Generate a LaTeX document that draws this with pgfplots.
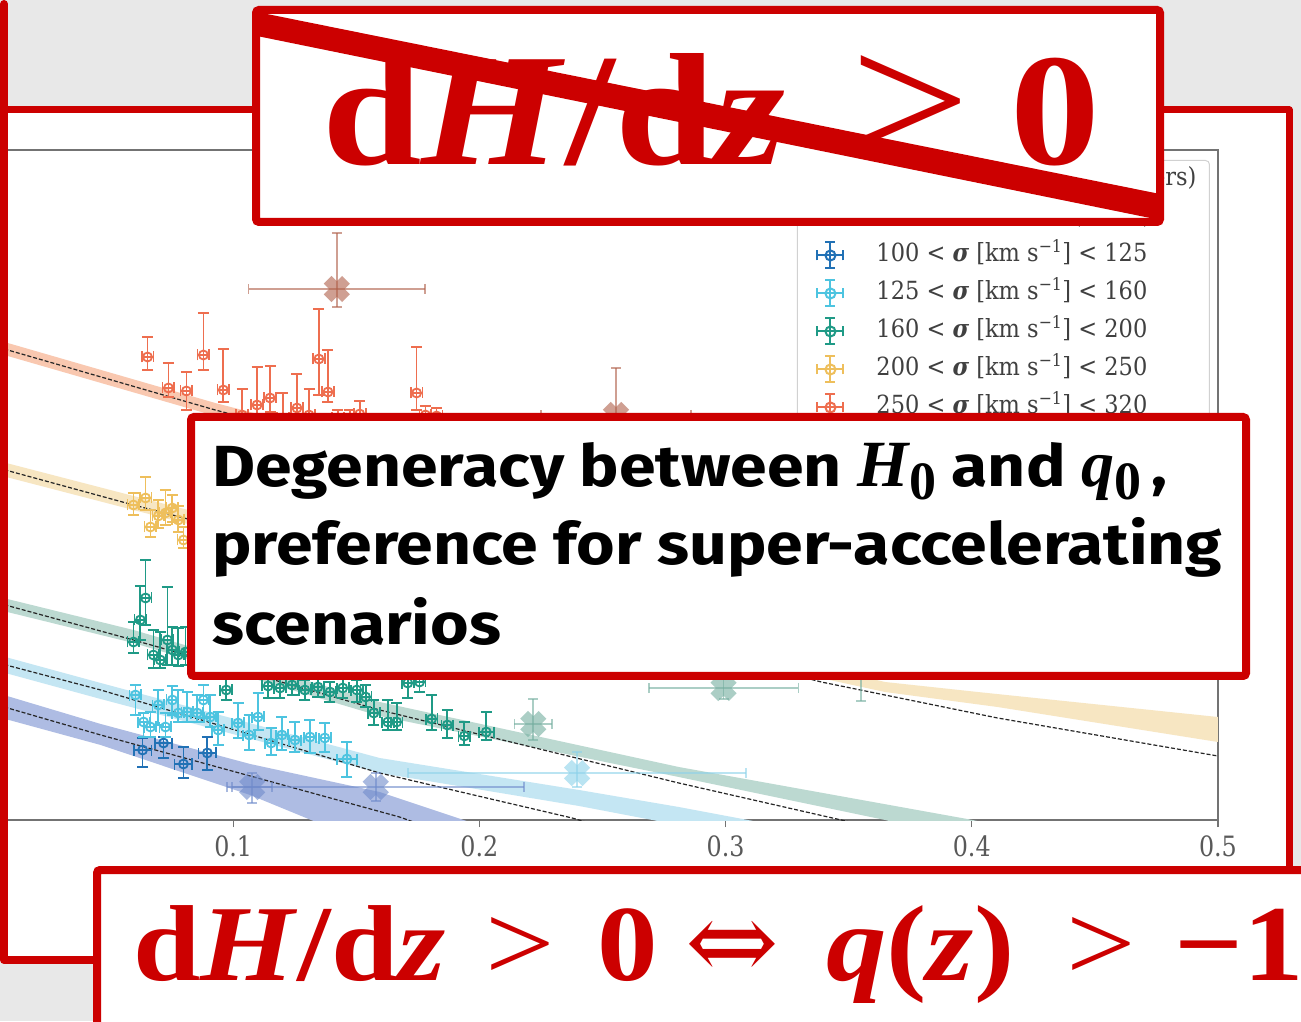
\documentclass[border=0pt]{standalone}
\usepackage{pgfplots}
\pgfplotsset{compat=1.18}
\usepackage{pgfplotstable}
\usepackage{fontspec}
\setmainfont{DejaVu Serif}
\newfontfamily\legfont[FakeStretch=0.9]{DejaVu Serif}
\newfontfamily\tickfont[FakeStretch=0.85]{DejaVu Serif}
\newfontfamily\redfont[FakeStretch=1.12]{Liberation Serif}
\newfontfamily\symfont{DejaVu Serif}
\newfontfamily\boxfont[FakeStretch=1.14]{Fira Sans}
\newfontfamily\varfont{Liberation Serif}

\definecolor{slidered}{RGB}{204,0,0}
\definecolor{slidebg}{HTML}{E8E8E8}
% series colours
\definecolor{cdb}{HTML}{2171B5}
\definecolor{clb}{HTML}{4DC4E0}
\definecolor{ctl}{HTML}{1F9A86}
\definecolor{cyl}{HTML}{EEBF5C}
\definecolor{cor}{HTML}{EE6E4F}
% model bands
\definecolor{bdb}{HTML}{AEBCE3}
\definecolor{blb}{HTML}{C4E6F3}
\definecolor{btl}{HTML}{BCD9D1}
\definecolor{byl}{HTML}{F7E6C2}
\definecolor{bor}{HTML}{F9C8B0}
% large cluster markers
\definecolor{xdb}{HTML}{6F8BCB}
\definecolor{xlb}{HTML}{8DD2EA}
\definecolor{xtl}{HTML}{74AE9F}
\definecolor{xor}{HTML}{B0604A}

% legend symbol: point with x and y error bars
\newcommand{\errleg}[1]{%
  \path[draw=none, fill=none, opacity=0] (-20pt,-13pt) rectangle (13pt,13pt);
  \draw[#1, line width=2pt, sharp corners] (0pt,-13pt) -- (0pt,13pt);
  \draw[#1, line width=2pt, sharp corners] (-5pt,-13pt) -- (5pt,-13pt);
  \draw[#1, line width=2pt, sharp corners] (-5pt,13pt) -- (5pt,13pt);
  \draw[#1, line width=2pt, sharp corners] (-13pt,0pt) -- (13pt,0pt);
  \draw[#1, line width=2pt, sharp corners] (-13pt,-5pt) -- (-13pt,5pt);
  \draw[#1, line width=2pt, sharp corners] (13pt,-5pt) -- (13pt,5pt);
  \draw[#1, line width=2pt] (0pt,0pt) circle (5pt);}

\newcommand{\Hz}{{\varfont\fontsize{66}{66}\selectfont\itshape H}\raisebox{-13pt}{\varfont\fontsize{54}{54}\selectfont 0}}
\newcommand{\qz}{{\varfont\fontsize{66}{66}\selectfont\itshape q}\raisebox{-13pt}{\varfont\fontsize{54}{54}\selectfont 0}}

% ---------- data: z, value, x error, y error plus, y error minus ----------
\pgfplotstableread{
z      t    ex      ep  em
0.0632 70   0.0036  12  17
0.0717 77   0.0036  6   15
0.0798 56   0.0036  17  14
0.0895 67   0.0036  16  17
}\ptsdb
\pgfplotstableread{
z      t    ex      ep  em
0.0603 125  0.0024  10  20
0.0636 98   0.0024  9   15
0.0664 93   0.0024  15  10
0.0696 115  0.0024  15  20
0.0725 93   0.0024  14  10
0.0753 120  0.0024  14  15
0.0777 107  0.0024  23  9
0.0814 108  0.0024  20  10
0.0854 107  0.0024  18  9
0.0879 120  0.0024  15  18
0.0907 103  0.0024  22  10
0.0939 90   0.0024  18  15
0.1020 97   0.0024  20  15
0.1065 85   0.0024  20  15
0.1101 103  0.0024  24  13
0.1154 77   0.0024  15  12
0.1198 85   0.0024  18  15
0.1251 80   0.0024  18  12
0.1312 83   0.0024  17  16
0.1372 82   0.0024  15  14
0.1462 61   0.0040  17  18
}\ptslb
\pgfplotstableread{
z      t    ex      ep  em
0.0595 178  0.0024  20  11
0.0623 200  0.0024  34  20
0.0644 222  0.0024  38  27
0.0676 165  0.0024  25  13
0.0704 160  0.0024  28  8
0.0733 180  0.0024  53  25
0.0753 170  0.0024  23  15
0.0777 165  0.0024  27  11
0.0806 168  0.0024  25  13
0.0972 130  0.0024  12  10
0.1142 134  0.0024  8   12
0.1190 132  0.0024  10  10
0.1239 135  0.0024  8   10
0.1291 130  0.0024  10  10
0.1344 133  0.0024  9   10
0.1393 128  0.0024  10  10
0.1445 132  0.0024  10  10
0.1502 130  0.0024  10  12
0.1538 123  0.0024  12  10
0.1571 107  0.0024  13  12
0.1628 98   0.0024  22  8
0.1664 98   0.0024  19  8
0.1709 137  0.0024  10  15
0.1757 138  0.0024  10  10
0.1806 101  0.0024  24  11
0.1870 95   0.0024  15  13
0.1939 84   0.0024  14  9
0.2028 88   0.0030  20  8
}\ptstl
\pgfplotstableread{
z      t    ex      ep  em
0.0595 315  0.0024  12  10
0.0644 322  0.0024  21  12
0.0664 293  0.0024  17  10
0.0696 304  0.0024  16  12
0.0725 307  0.0024  23  12
0.0753 312  0.0024  13  14
0.0777 300  0.0024  14  12
0.0798 280  0.0024  13  8
}\ptsyl
\pgfplotstableread{
z      t    ex      ep  em
0.0652 463  0.0024  20  13
0.0737 432  0.0024  25  9
0.0810 429  0.0024  19  19
0.0879 465  0.0024  42  15
0.0960 430  0.0024  41  12
0.1036 405  0.0024  26  15
0.1097 415  0.0024  38  13
0.1150 422  0.0024  32  14
0.1202 402  0.0024  25  12
0.1259 412  0.0024  34  14
0.1308 405  0.0024  26  12
0.1348 461  0.0024  50  36
0.1385 428  0.0024  42  10
0.1425 402  0.0024  8   8
0.1474 402  0.0024  8   8
0.1514 406  0.0024  13  10
0.1745 427  0.0024  46  17
0.1781 405  0.0024  9   9
0.1826 404  0.0024  8   8
}\ptsor
% cluster averages
\pgfplotstableread{
z      t    ex      ep  em
0.1077 33   0.0081  14  16
0.1579 33   0.0603  14  14
}\clsdb
\pgfplotstableread{
z      t    ex      ep  em
0.2397 47   0.0686  21  14
}\clslb
\pgfplotstableread{
z      t    ex      ep  em
0.2219 96   0.0077  25  16
0.2992 132  0.0304  11  11
0.3551 165  0.0200  46  46
}\clstl
\pgfplotstableread{
z      t    ex      ep  em
0.1421 531  0.0358  56  18
0.2555 405  0.0304  47  30
}\clsor

\pgfplotsset{
  ptstyle/.style={only marks, mark=o, mark size=4.5pt, line width=1.8pt,
    mark options={line width=1.8pt, solid},
    error bars/x dir=both, error bars/y dir=both,
    error bars/x explicit, error bars/y explicit,
    error bars/error bar style={line width=1.8pt},
    error bars/error mark options={rotate=90, mark size=5.5pt, line width=1.8pt}},
  clstyle/.style={only marks, mark=x, mark size=13pt,
    mark options={line width=11pt, opacity=0.6},
    error bars/x dir=both, error bars/y dir=both,
    error bars/x explicit, error bars/y explicit,
    error bars/error bar style={line width=1.6pt, opacity=0.6},
    error bars/error mark options={rotate=90, mark size=5pt, line width=1.6pt, opacity=0.6}},
  model/.style={black!85, line width=1.2pt, dash pattern=on 4pt off 2pt, forget plot},
}

\begin{document}
\begin{tikzpicture}[x=1pt,y=1pt]
\fill[slidebg] (0,0) rectangle (1301,1021);
\fill[white] (4,61) rectangle (1289,911);

\begin{axis}[
  scale only axis, width=1231pt, height=670pt,
  at={(-13pt,201pt)}, anchor=south west,
  xmin=0, xmax=0.5, ymin=0, ymax=670,
  xtick={0.1,0.2,0.3,0.4,0.5}, ytick=\empty,
  xtick pos=left, tick align=outside, major tick length=7pt,
  axis line style={draw=black!55, line width=1.2pt},
  tick style={draw=black!55, line width=1.2pt},
  /pgf/number format/assume math mode=true,
  xticklabel style={font=\tickfont\fontsize{28}{28}\selectfont, text=black!65, yshift=-5pt},
  legend cell align=left,
  legend style={at={(0.658,0.9851)}, anchor=north west,
    draw=black!18, line width=1pt, rounded corners=4pt, fill=white,
    inner xsep=13pt, inner ysep=5pt, row sep=10pt, column sep=32pt,
    font=\legfont\fontsize{25}{25}\selectfont, text=black!75,
    nodes={inner sep=0pt, text height=20pt, text depth=8pt}},
]
% model bands
\addplot[draw=none, fill=bor, forget plot] coordinates {(0,483) (0.0927,417) (0.2486,318) (0.5,180) (0.5,160) (0.2486,303) (0.0927,404) (0,470)} -- cycle;
\addplot[draw=none, fill=byl, forget plot] coordinates {(0,362) (0.0595,324) (0.2486,205) (0.3648,138) (0.4024,128) (0.5,103) (0.5,78) (0.4105,113) (0.3648,128) (0.2486,190) (0.0595,310) (0,348)} -- cycle;
\addplot[draw=none, fill=btl, forget plot] coordinates {(0,226) (0.0595,190) (0.1595,118) (0.2810,53) (0.4004,0) (0.4146,-8) (0.3781,-8) (0.3648,0) (0.2810,43) (0.1595,104) (0.0595,177) (0,213)} -- cycle;
\addplot[draw=none, fill=blb, forget plot] coordinates {(0,168) (0.0462,137) (0.1595,62) (0.2405,30) (0.2810,13) (0.3134,-2) (0.33,-10) (0.2810,-5) (0.2405,14) (0.1595,47) (0.0462,121) (0,152)} -- cycle;
\addplot[draw=none, fill=bdb, forget plot] coordinates {(0,130) (0.0462,96) (0.1069,56) (0.1595,28) (0.1960,-2) (0.2081,-10) (0.1595,-20) (0.1336,-2) (0.1069,25) (0.0462,75) (0,106)} -- cycle;
% best-fit models
\addplot[model] coordinates {(0,476) (0.0927,410) (0.2486,310) (0.5,170)};
\addplot[model] coordinates {(0,355) (0.0595,315) (0.3389,138) (0.4105,102) (0.5,64)};
\addplot[model] coordinates {(0,220) (0.0595,180) (0.1595,110) (0.2810,37) (0.3470,0) (0.3538,-4)};
\addplot[model] coordinates {(0,160) (0.0462,130) (0.1595,47) (0.2377,2) (0.2445,-3)};
\addplot[model] coordinates {(0,118) (0.0462,85) (0.1069,44) (0.1676,3) (0.18,-8)};
% cluster averages
\addplot[clstyle, color=xdb, forget plot] table[x=z, y=t, x error=ex, y error plus=ep, y error minus=em]{\clsdb};
\addplot[clstyle, color=xlb, forget plot] table[x=z, y=t, x error=ex, y error plus=ep, y error minus=em]{\clslb};
\addplot[clstyle, color=xtl, forget plot] table[x=z, y=t, x error=ex, y error plus=ep, y error minus=em]{\clstl};
\addplot[clstyle, color=xor, forget plot] table[x=z, y=t, x error=ex, y error plus=ep, y error minus=em]{\clsor};
% legend header
\addlegendimage{empty legend}
\addlegendentry{\makebox[320pt][r]{Stacked ages (clusters)}}
\addlegendimage{empty legend}
\addlegendentry{\makebox[275pt][r]{Bins in {\bfseries\itshape σ} (ETGs)}}
% individual measurements
\addplot[ptstyle, color=cdb, legend image code/.code={\errleg{cdb}}] table[x=z, y=t, x error=ex, y error plus=ep, y error minus=em]{\ptsdb};
\addlegendentry{100 < {\bfseries\itshape σ} [km s\textsuperscript{−1}] < 125}
\addplot[ptstyle, color=clb, legend image code/.code={\errleg{clb}}] table[x=z, y=t, x error=ex, y error plus=ep, y error minus=em]{\ptslb};
\addlegendentry{125 < {\bfseries\itshape σ} [km s\textsuperscript{−1}] < 160}
\addplot[ptstyle, color=ctl, legend image code/.code={\errleg{ctl}}] table[x=z, y=t, x error=ex, y error plus=ep, y error minus=em]{\ptstl};
\addlegendentry{160 < {\bfseries\itshape σ} [km s\textsuperscript{−1}] < 200}
\addplot[ptstyle, color=cyl, legend image code/.code={\errleg{cyl}}] table[x=z, y=t, x error=ex, y error plus=ep, y error minus=em]{\ptsyl};
\addlegendentry{200 < {\bfseries\itshape σ} [km s\textsuperscript{−1}] < 250}
\addplot[ptstyle, color=cor, legend image code/.code={\errleg{cor}}] table[x=z, y=t, x error=ex, y error plus=ep, y error minus=em]{\ptsor};
\addlegendentry{250 < {\bfseries\itshape σ} [km s\textsuperscript{−1}] < 320}
\end{axis}

% red frame around the figure panel
\draw[slidered, line width=8pt, line cap=round, line join=round] (4,1017) -- (4,61) -- (100,61);
\draw[slidered, line width=7pt, line join=round] (4,911) -- (1289,911) -- (1289,140);

% crossed-out statement
\draw[slidered, line width=8pt, fill=white, rounded corners=3pt] (256,1011) rectangle (1160,799);
\node[anchor=base west, inner sep=0pt, text=slidered, font=\redfont\fontsize{160}{160}\selectfont\bfseries] at (322,856) {d\textit{H}/d\textit{z}};
\node[anchor=base west, inner sep=0pt, text=slidered, font=\redfont\fontsize{190}{190}\selectfont] at (850,856) {>};
\node[anchor=base west, inner sep=0pt, text=slidered, font=\redfont\fontsize{160}{160}\selectfont\bfseries] at (1010,856) {0};
\fill[slidered] (257,1009) -- (1160,827) -- (1160,801) -- (257,985) -- cycle;

% comment box
\draw[slidered, line width=8pt, fill=white, rounded corners=3pt] (191,604) rectangle (1246,345);
\begin{scope}[every node/.style={anchor=base west, inner sep=0pt, text=black, font=\boxfont\fontsize{58}{58}\selectfont\bfseries}]
\node at (212,534) {Degeneracy between \Hz{} and \qz{}\,,};
\node at (212,456) {preference for super-accelerating};
\node at (212,376) {scenarios};
\end{scope}

% equivalence
\draw[slidered, line width=8pt, fill=white, rounded corners=3pt] (97,151) rectangle (1340,-30);
\begin{scope}[every node/.style={anchor=base west, inner sep=0pt, text=slidered}]
\node[font=\redfont\fontsize{108}{108}\selectfont\bfseries] at (133,41) {d\textit{H}/d\textit{z}};
\node[font=\redfont\fontsize{110}{110}\selectfont] at (485,41) {>};
\node[font=\redfont\fontsize{108}{108}\selectfont\bfseries] at (597,41) {0};
\node[font=\symfont\fontsize{112}{112}\selectfont] at (685,41) {⇔};
\node[font=\redfont\fontsize{108}{108}\selectfont\bfseries] at (826,41) {\textit{q}(\textit{z})};
\node[font=\redfont\fontsize{110}{110}\selectfont] at (1066,41) {>};
\node[font=\redfont\fontsize{108}{108}\selectfont\bfseries] at (1174,41) {−1};
\end{scope}

\pgfresetboundingbox
\useasboundingbox (0,0) rectangle (1301,1021);
\end{tikzpicture}
\end{document}
